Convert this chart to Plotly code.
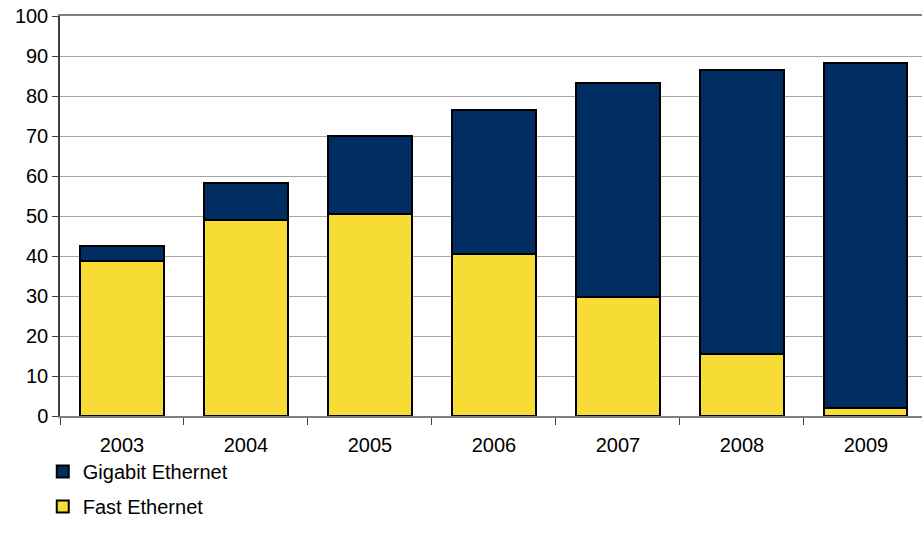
import plotly.graph_objects as go

years = ["2003", "2004", "2005", "2006", "2007", "2008", "2009"]
fast_ethernet = [38.8, 49.0, 50.5, 40.5, 29.8, 15.5, 2.0]
total = [42.5, 58.2, 70.0, 76.4, 83.2, 86.5, 88.2]
gigabit_ethernet = [round(t - f, 2) for t, f in zip(total, fast_ethernet)]
y_ticks = [0, 10, 20, 30, 40, 50, 60, 70, 80, 90, 100]

font_family = "Liberation Sans, Arial, sans-serif"

fig = go.Figure()
fig.add_trace(go.Bar(
    x=years, y=fast_ethernet, name="Fast Ethernet", legendgroup="fast", legendrank=2,
    marker=dict(color="#F7DC35", line=dict(color="#000000", width=2)),
))
fig.add_trace(go.Bar(
    x=years, y=gigabit_ethernet, name="Gigabit Ethernet", legendgroup="giga", legendrank=1,
    marker=dict(color="#002E62", line=dict(color="#000000", width=2)),
))

fig.update_layout(
    width=922, height=546,
    barmode="stack", bargap=0.33,
    plot_bgcolor="white", paper_bgcolor="white",
    margin=dict(l=60, r=0, t=16, b=130, autoexpand=False),
    font=dict(family=font_family, size=20, color="#000000"),
    legend=dict(
        x=-0.02, y=-0.09, xanchor="left", yanchor="top",
        traceorder="grouped", font=dict(size=20),
        itemwidth=30, tracegroupgap=6, bgcolor="rgba(0,0,0,0)",
    ),
    showlegend=True,
)
fig.update_xaxes(
    type="category", range=[-0.5, 6.452],
    showline=True, linecolor="#808080", linewidth=1.5, mirror=True,
    ticks="outside", ticklen=7, tickcolor="#404040", tickson="boundaries",
    ticklabelstandoff=10,
    showgrid=False, tickfont=dict(size=20),
)
fig.update_yaxes(
    range=[0, 100], tickvals=y_ticks,
    showline=True, linecolor="#404040", linewidth=1.5,
    ticks="outside", ticklen=6, tickcolor="#404040",
    showgrid=True, gridcolor="#A6A6A6", gridwidth=1,
    zeroline=False, tickfont=dict(size=20),
)

fig.write_html("out.html")
